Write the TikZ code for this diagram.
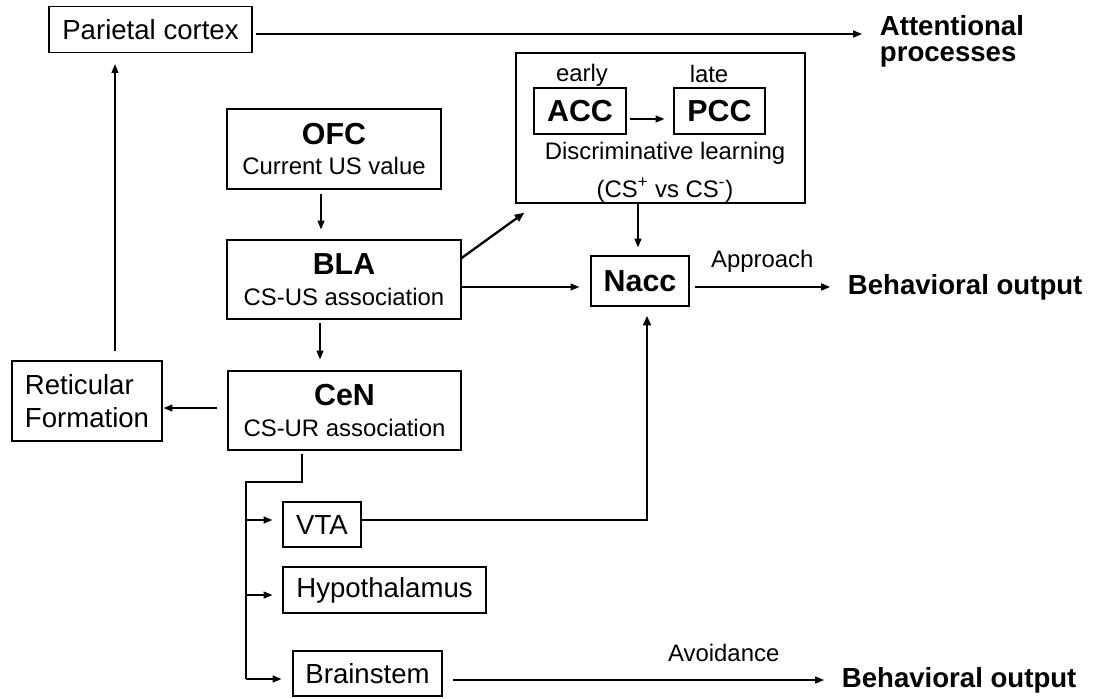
\documentclass[tikz,border=0pt]{standalone}
\usepackage{fontspec}
\setmainfont{Liberation Sans}
\usetikzlibrary{arrows.meta,calc}

\newcommand{\bigname}{\fontsize{17.3}{17.6}\bfseries}
\newcommand{\boxtext}{\fontsize{15.7}{18.8}\selectfont}
\newcommand{\subtext}{\fontsize{13.6}{17.6}\selectfont}

\begin{document}
\begin{tikzpicture}[x=0.02cm,y=-0.02cm,
  box/.style={draw, line width=0.75pt, inner sep=0pt, align=center},
  arr/.style={-{Triangle[length=5pt,width=4pt]}, line width=0.6pt},
  heavy/.style={-{Triangle[length=5.5pt,width=4.4pt]}, line width=1.3pt},
  outtxt/.style={font=\boxtext\bfseries, align=left, inner xsep=10pt, inner ysep=0pt},
  lbl/.style={font=\subtext, inner sep=1pt}]
\useasboundingbox (0,0) rectangle (1097,698);

\node[box, minimum width=4.06cm, minimum height=0.92cm, font=\boxtext] (par) at (150.5,29.5) {Parietal cortex};
\node[outtxt, anchor=north west, font=\fontsize{15.7}{14.6}\bfseries] (att) at (862,15) {Attentional\\processes};
\node[box, minimum width=4.28cm, minimum height=1.6cm, font=\subtext] (ofc) at (334,149) {{\bigname OFC}\\Current US value};
\node[box, minimum width=4.68cm, minimum height=1.58cm, font=\subtext] (bla) at (344,279.5) {{\bigname BLA}\\CS-US association};
\node[box, minimum width=4.66cm, minimum height=1.58cm, font=\subtext] (cen) at (344.5,410.5) {{\bigname CeN}\\CS-UR association};
\node[box, align=left, minimum width=3cm, minimum height=1.6cm, font=\boxtext] (ret) at (87,401) {Reticular\\Formation};
\node[box, minimum width=1.56cm, minimum height=0.9cm, font=\boxtext] (vta) at (322,524.5) {VTA};
\node[box, minimum width=4.06cm, minimum height=0.92cm, font=\boxtext] (hyp) at (384.5,590) {Hypothalamus};
\node[box, minimum width=2.98cm, minimum height=0.9cm, font=\boxtext] (bst) at (367.5,673.5) {Brainstem};
\node[box, minimum width=5.78cm, minimum height=3cm] (outer) at (660.5,128) {};
\node[box, minimum width=1.84cm, minimum height=0.92cm, font=\bigname] (acc) at (580,111) {ACC};
\node[box, minimum width=1.82cm, minimum height=0.92cm, font=\bigname] (pcc) at (719.5,111) {PCC};
\node[lbl, inner sep=0pt] (early) at (582,75) {early};
\node[lbl, inner sep=0pt] (late) at (709,74) {late};
\node[lbl, inner sep=0pt, align=center, font=\fontsize{13.6}{21.5}\selectfont] (disc) at (665,172) {Discriminative learning\\(CS\textsuperscript{+} vs CS\textsuperscript{-})};
\node[box, minimum width=1.96cm, minimum height=1cm, font=\bigname] (nacc) at (640,281) {Nacc};
\node[outtxt, anchor=west] (beh1) at (830,287) {Behavioral output};
\node[outtxt, anchor=west] (beh2) at (824,680) {Behavioral output};
\coordinate (elbow) at (246,482);

\draw[arr] ($(par.east)+(3,4.5)$) -- ($(par.east -| att.west)+(0,4.5)$);
\draw[arr] ($(ret.north)+(28,-9)$) -- ($(ret.north |- par.south)+(28,11)$);
\draw[arr] ($(ofc.south)+(-13,4)$) -- ($(ofc.south |- bla.north)+(-13,-10)$);
\draw[arr] ($(bla.south)+(-24,3)$) -- ($(bla.south |- cen.north)+(-24,-11)$);
\draw[arr] ($(cen.west)+(-10,-2.5)$) -- ($(cen.west -| ret.east)+(1,-2.5)$);
\draw[heavy] ($(bla.east)+(0,-21.5)$) -- ($(outer.south west)+(9,9)$);
\draw[arr] ($(outer.south -| nacc.north)+(-2,0)$) -- ($(nacc.north)+(-2,-8)$);
\draw[arr] ($(bla.east)+(0,7.5)$) -- ($(bla.east -| nacc.west)+(-11,7.5)$);
\draw[arr] ($(acc.east)+(3,8)$) -- ($(acc.east -| pcc.west)+(-9,8)$);
\draw[arr] ($(beh1.west -| nacc.east)+(5,0)$) -- (beh1.west) node[lbl, midway, above=7pt] {Approach};
\draw[line width=0.6pt] ($(cen.south)+(-42.5,3)$) |- (elbow) -- ($(elbow |- bst.west)+(0,5.5)$);
\draw[arr] ($(elbow |- vta.west)+(0,-4.5)$) -- ($(vta.west)+(-10,-4.5)$);
\draw[arr] ($(elbow |- hyp.west)+(0,5)$) -- ($(hyp.west)+(-10,5)$);
\draw[arr] ($(elbow |- bst.west)+(0,5.5)$) -- ($(bst.west)+(-11,5.5)$);
\draw[heavy] ($(vta.east)+(0,-4.5)$) -| ($(nacc.south)+(7,9)$);
\draw[arr] ($(beh2.west -| bst.east)+(10,0)$) -- (beh2.west) node[lbl, pos=0.73, above=9pt] {Avoidance};
\end{tikzpicture}
\end{document}
